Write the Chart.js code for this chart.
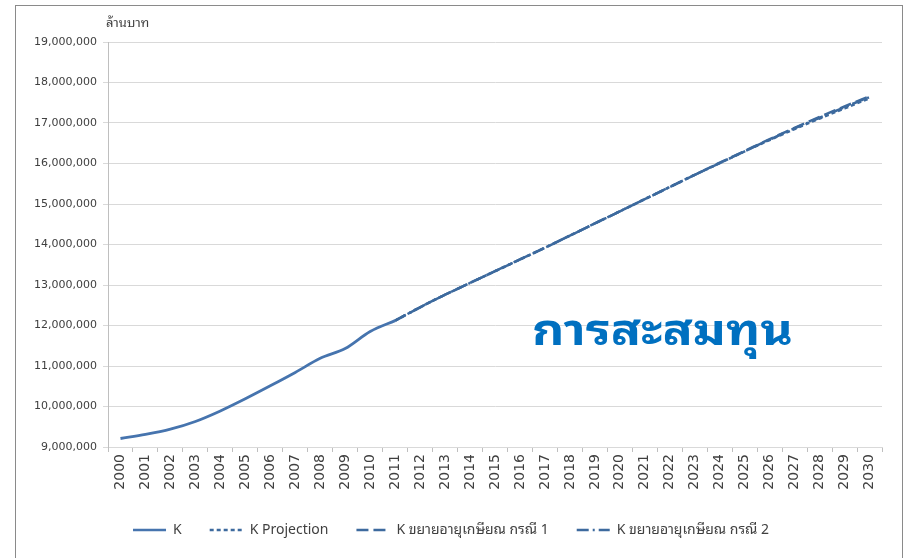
<!DOCTYPE html>
<html>
<head>
<meta charset="utf-8">
<script src="https://cdn.jsdelivr.net/npm/chart.js@4.4.1/dist/chart.umd.min.js"></script>
<style>
  html, body { margin: 0; padding: 0; background: #ffffff; }
  #wrap { position: relative; width: 909px; height: 558px; overflow: hidden; }
</style>
</head>
<body>
<div id="wrap"><canvas id="c"></canvas></div>
<script>
// ---- data ----
const years = ['2000','2001','2002','2003','2004','2005','2006','2007','2008','2009','2010',
  '2011','2012','2013','2014','2015','2016','2017','2018','2019','2020',
  '2021','2022','2023','2024','2025','2026','2027','2028','2029','2030'];

const kActual = [9.21, 9.31, 9.44, 9.63, 9.89, 10.19, 10.51, 10.84, 11.19, 11.43, 11.85,
  12.12, null, null, null, null, null, null, null, null, null,
  null, null, null, null, null, null, null, null, null, null];

const kProjection = [null, null, null, null, null, null, null, null, null, null, null,
  12.12, 12.45, 12.76, 13.05, 13.34, 13.63, 13.92, 14.22, 14.52, 14.82,
  15.12, 15.42, 15.72, 16.01, 16.30, 16.58, 16.85, 17.11, 17.36, 17.61];

const kCase1 = [null, null, null, null, null, null, null, null, null, null, null,
  12.12, 12.45, 12.76, 13.05, 13.34, 13.63, 13.92, 14.22, 14.52, 14.82,
  15.12, 15.42, 15.72, 16.02, 16.31, 16.60, 16.88, 17.15, 17.41, 17.66];

const kCase2 = [null, null, null, null, null, null, null, null, null, null, null,
  12.12, 12.45, 12.76, 13.05, 13.34, 13.63, 13.92, 14.22, 14.52, 14.82,
  15.12, 15.42, 15.72, 16.01, 16.30, 16.59, 16.87, 17.13, 17.39, 17.64];

const seriesNames = ['K', 'K Projection', 'K ขยายอายุเกษียณ กรณี 1', 'K ขยายอายุเกษียณ กรณี 2'];
const yTickMin = 9000000, yTickMax = 19000000, yTickStep = 1000000;
const unitLabel = 'ล้านบาท';
const bigTitle = 'การสะสมทุน';

const M = v => v === null ? null : v * 1000000;

const thaiFont = "'Noto Sans Thai Looped', 'Noto Sans Thai', Tahoma, 'Liberation Sans', 'DejaVu Sans', sans-serif";
const tickFont = "'DejaVu Sans', sans-serif";

const overlay = {
  id: 'overlay',
  beforeDraw(chart) {
    const ctx = chart.ctx;
    ctx.save();
    ctx.fillStyle = '#ffffff';
    ctx.fillRect(0, 0, chart.width, chart.height);
    ctx.strokeStyle = '#8a8a8a';
    ctx.lineWidth = 1;
    ctx.strokeRect(15.5, 5.5, 887, 620);
    ctx.restore();
  },
  afterDraw(chart) {
    const ctx = chart.ctx;
    const y = chart.scales.y;
    ctx.save();
    ctx.fillStyle = '#404040';
    ctx.font = '13px ' + thaiFont;
    ctx.textAlign = 'left';
    ctx.textBaseline = 'alphabetic';
    ctx.fillText(unitLabel, y.right - 2, 27);
    // big title
    ctx.fillStyle = '#0070C0';
    ctx.font = 'bold 44px ' + thaiFont;
    const tw = ctx.measureText(bigTitle).width;
    const sx = 261 / tw;
    ctx.translate(532, 345);
    ctx.scale(sx, 1);
    ctx.fillText(bigTitle, 0, 0);
    ctx.restore();
  }
};

const lineColor = '#3D6A9E';

new Chart(document.getElementById('c'), {
  type: 'line',
  data: {
    labels: years,
    datasets: [
      { label: seriesNames[0], data: kActual.map(M), borderColor: '#4674AE', backgroundColor: '#4674AE',
        borderWidth: 2.8, pointRadius: 0, borderDash: [] },
      { label: seriesNames[1], data: kProjection.map(M), borderColor: lineColor, backgroundColor: lineColor,
        borderWidth: 2.5, pointRadius: 0, borderDash: [4, 3] },
      { label: seriesNames[2], data: kCase1.map(M), borderColor: lineColor, backgroundColor: lineColor,
        borderWidth: 2.5, pointRadius: 0, borderDash: [12, 5] },
      { label: seriesNames[3], data: kCase2.map(M), borderColor: lineColor, backgroundColor: lineColor,
        borderWidth: 2.5, pointRadius: 0, borderDash: [12, 4, 2, 4] }
    ]
  },
  options: {
    responsive: true,
    maintainAspectRatio: false,
    animation: false,
    devicePixelRatio: 1,
    layout: { padding: { left: 20, right: 27, top: 42, bottom: 11 } },
    elements: { line: { cubicInterpolationMode: 'monotone' } },
    plugins: {
      legend: {
        position: 'bottom',
        labels: {
          usePointStyle: true,
          pointStyle: 'line',
          pointStyleWidth: 33,
          padding: 28,
          color: '#404040',
          font: { size: 14, family: thaiFont },
          generateLabels(chart) {
            return chart.data.datasets.map((ds, i) => ({
              text: ds.label,
              fillStyle: ds.borderColor,
              strokeStyle: ds.borderColor,
              lineWidth: 2.5,
              lineDash: ds.borderDash,
              pointStyle: 'line',
              hidden: false,
              datasetIndex: i,
              fontColor: '#404040'
            }));
          }
        }
      },
      tooltip: { enabled: false }
    },
    scales: {
      x: {
        offset: true,
        afterFit(scale) { scale.height = 48; },
        grid: { display: true, drawOnChartArea: false, offset: true, tickLength: 5, color: '#BFBFBF' },
        border: { display: true, color: '#D9D9D9' },
        ticks: {
          autoSkip: false, minRotation: 90, maxRotation: 90, padding: 2,
          color: '#404040', font: { size: 14, family: tickFont }
        }
      },
      y: {
        min: yTickMin, max: yTickMax,
        afterFit(scale) { scale.width = 88; },
        grid: { color: '#D9D9D9', tickLength: 5, lineWidth: 1 },
        border: { display: true, color: '#BFBFBF' },
        ticks: {
          stepSize: yTickStep, padding: 6, color: '#404040',
          font: { size: 11, family: tickFont },
          callback: v => v.toLocaleString('en-US')
        }
      }
    }
  },
  plugins: [overlay]
});
</script>
</body>
</html>
